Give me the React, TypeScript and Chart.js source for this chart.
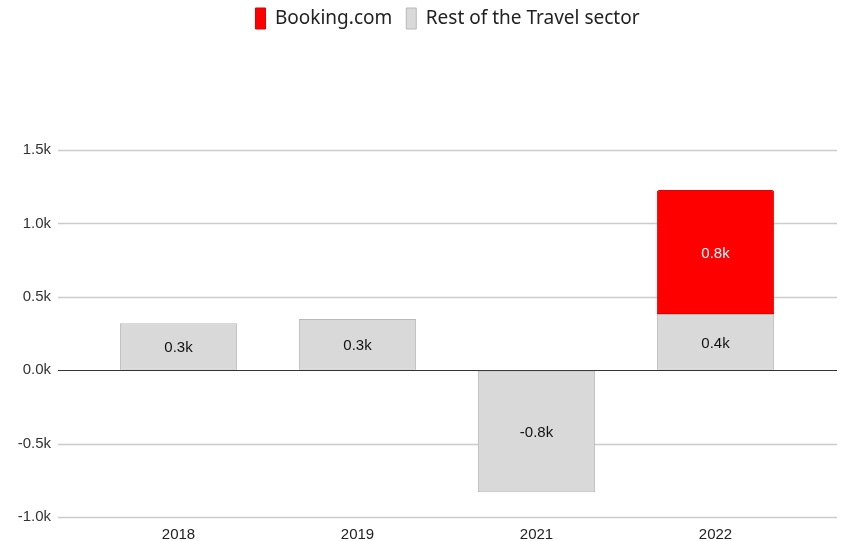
import React, { useEffect, useRef } from "react";
import { Chart, registerables } from "chart.js";

Chart.register(...registerables);

const categories = ["2018", "2019", "2021", "2022"];
const bookingValues: (number | null)[] = [null, null, null, 845];
const restValues: number[] = [320, 348, -832, 382];
const yTicks = [-1000, -500, 0, 500, 1000, 1500];
const seriesNames = ["Booking.com", "Rest of the Travel sector"];

const fmtK = (v: number) => (v / 1000).toFixed(1) + "k";
const tickFont = { family: "'Liberation Sans', Arial, sans-serif", size: 15 };

const gridPlugin = {
  id: "wideGrid",
  beforeDatasetsDraw(chart: any) {
    const { ctx, chartArea, scales } = chart;
    const y = scales.y;
    ctx.save();
    for (const v of yTicks) {
      const py = Math.round(y.getPixelForValue(v)) + 0.5;
      ctx.beginPath();
      ctx.moveTo(chartArea.left - 31, py);
      ctx.lineTo(chartArea.right + 32, py);
      ctx.lineWidth = v === 0 ? 1.2 : 1.5;
      ctx.strokeStyle = v === 0 ? "#333333" : "#cccccc";
      ctx.stroke();
    }
    ctx.restore();
  },
};

const legendShift = {
  id: "legendShift",
  afterLayout(chart: any) {
    const lg = chart.legend;
    if (!lg) return;
    lg.left += 45;
    lg.right += 45;
    lg.top -= 6;
    lg.bottom -= 6;
  },
};

const labelPlugin = {
  id: "barLabels",
  afterDatasetsDraw(chart: any) {
    const { ctx } = chart;
    ctx.save();
    ctx.font = "15px 'Liberation Sans', Arial, sans-serif";
    ctx.textAlign = "center";
    ctx.textBaseline = "middle";
    chart.data.datasets.forEach((ds: any, di: number) => {
      const meta = chart.getDatasetMeta(di);
      meta.data.forEach((bar: any, i: number) => {
        const v = ds.data[i];
        if (v === null || v === undefined) return;
        const { x, y, base } = bar.getProps(["x", "y", "base"], true);
        ctx.fillStyle = ds.labelColor;
        ctx.fillText(fmtK(v), x, (y + base) / 2 + 1.5);
      });
    });
    ctx.restore();
  },
};

export default function App() {
  const ref = useRef<HTMLCanvasElement | null>(null);
  useEffect(() => {
    if (!ref.current) return;
    const chart = new Chart(ref.current, {
      type: "bar",
      data: {
        labels: categories,
        datasets: [
          {
            label: seriesNames[1],
            data: restValues,
            backgroundColor: "#d9d9d9",
            borderColor: "#b8b8b8",
            borderWidth: 1,
            borderSkipped: false,
            barPercentage: 0.655,
            categoryPercentage: 1,
            labelColor: "#111111",
          } as any,
          {
            label: seriesNames[0],
            data: bookingValues,
            backgroundColor: "#ff0000",
            borderColor: "#e00000",
            borderWidth: 1,
            borderSkipped: false,
            borderRadius: { topLeft: 2, topRight: 2, bottomLeft: 0, bottomRight: 0 },
            barPercentage: 0.655,
            categoryPercentage: 1,
            labelColor: "#ffffff",
          } as any,
        ],
      },
      options: {
        responsive: false,
        animation: false,
        layout: { padding: { top: 0, right: 39, bottom: 0, left: 0 } },
        plugins: {
          legend: {
            position: "top",
            align: "center",
            labels: {
              boxWidth: 10,
              boxHeight: 21,
              padding: 14,
              color: "#222222",
              font: { family: "'Noto Sans', sans-serif", size: 19 },
              sort: (a: any, b: any) => b.datasetIndex - a.datasetIndex,
            },
          },
          title: {
            display: true,
            text: "",
            weight: 500,
            font: { size: 10 },
            padding: { top: 93, bottom: 0 },
          },
          tooltip: { enabled: false },
        },
        scales: {
          x: {
            stacked: true,
            grid: { display: false, drawTicks: false },
            border: { display: false },
            afterFit: (s: any) => {
              s.height = 24;
            },
            ticks: {
              padding: 9,
              color: "#222222",
              font: tickFont,
            },
          },
          y: {
            stacked: true,
            min: -1000,
            max: 1500,
            grid: {
              display: true,
              drawOnChartArea: false,
              drawTicks: true,
              tickLength: 38,
              color: "rgba(0,0,0,0)",
            },
            border: { display: false },
            afterFit: (s: any) => {
              s.width = 89;
            },
            ticks: {
              stepSize: 500,
              padding: 0,
              color: "#333333",
              font: tickFont,
              callback: (v: any) => fmtK(Number(v)),
            },
          },
        },
      },
      plugins: [gridPlugin, labelPlugin, legendShift],
    });
    return () => chart.destroy();
  }, []);
  return (
    <div style={{ position: "fixed", left: 0, top: 0, width: 844, height: 541, background: "#fff" }}>
      <canvas ref={ref} width={844} height={541} />
    </div>
  );
}
